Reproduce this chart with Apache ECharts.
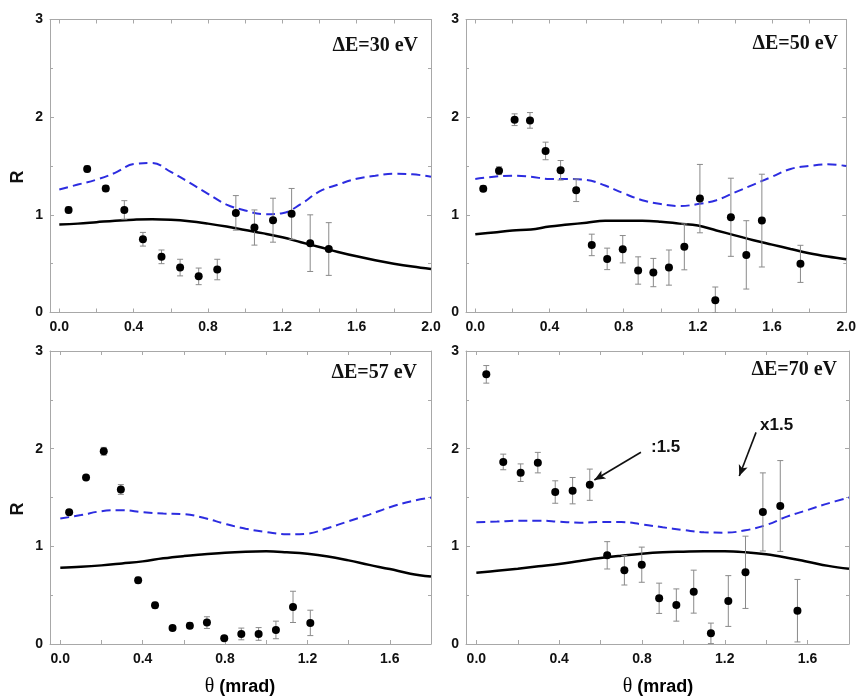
<!DOCTYPE html>
<html><head><meta charset="utf-8">
<script src="https://cdn.jsdelivr.net/npm/echarts@6/dist/echarts.min.js"></script>
<style>html,body{margin:0;padding:0;background:#fff}#c{width:859px;height:696px}</style>
</head><body><div id="c"></div>
<script>
// ---------------- data ----------------
const panelLabels = ['ΔE=30 eV', 'ΔE=50 eV', 'ΔE=57 eV', 'ΔE=70 eV'];
const xMaxTop = 2.0;
const xMaxBottom = 1.8;
const xLabelsTop = [0, 0.4, 0.8, 1.2, 1.6, 2.0];
const xLabelsBottom = [0, 0.4, 0.8, 1.2, 1.6];
const xTicksTop = [0, 0.2, 0.4, 0.6, 0.8, 1.0, 1.2, 1.4, 1.6, 1.8, 2.0];
const xTicksBottom = [0, 0.2, 0.4, 0.6, 0.8, 1.0, 1.2, 1.4, 1.6];
const yAxisTitle = 'R';
const xAxisTitle = ['θ', ' (mrad)'];

// ΔE = 30 eV
const theta30 = [0.05, 0.15, 0.25, 0.35, 0.45, 0.55, 0.65, 0.75, 0.85, 0.95, 1.05, 1.15, 1.25, 1.35, 1.45];
const r30 = [1.05, 1.47, 1.27, 1.05, 0.75, 0.57, 0.46, 0.37, 0.44, 1.02, 0.87, 0.945, 1.01, 0.71, 0.65];
const err30 = [0.03, 0.03, 0.03, 0.095, 0.07, 0.07, 0.085, 0.085, 0.105, 0.177, 0.18, 0.225, 0.26, 0.29, 0.27];

// ΔE = 50 eV
const theta50 = [0.043, 0.128, 0.212, 0.295, 0.379, 0.46, 0.544, 0.628, 0.711, 0.795, 0.878, 0.96, 1.044, 1.127, 1.211, 1.294, 1.378, 1.461, 1.545, 1.753];
const r50 = [1.268, 1.452, 1.974, 1.967, 1.654, 1.456, 1.251, 0.692, 0.549, 0.648, 0.43, 0.409, 0.46, 0.672, 1.166, 0.126, 0.975, 0.59, 0.941, 0.498];
const err50 = [0.03, 0.04, 0.06, 0.08, 0.09, 0.1, 0.115, 0.11, 0.11, 0.14, 0.14, 0.145, 0.18, 0.235, 0.35, 0.135, 0.4, 0.35, 0.475, 0.19];

// ΔE = 57 eV
const theta57 = [0.043, 0.125, 0.211, 0.294, 0.378, 0.46, 0.545, 0.629, 0.712, 0.796, 0.879, 0.963, 1.047, 1.13, 1.214];
const r57 = [1.349, 1.705, 1.973, 1.582, 0.654, 0.397, 0.164, 0.188, 0.219, 0.058, 0.103, 0.103, 0.144, 0.38, 0.216];
const err57 = [0.02, 0.02, 0.04, 0.05, 0.03, 0.03, 0.02, 0.03, 0.06, 0.02, 0.06, 0.065, 0.09, 0.16, 0.13];

// ΔE = 70 eV
const theta70 = [0.048, 0.13, 0.214, 0.297, 0.381, 0.465, 0.548, 0.632, 0.715, 0.799, 0.883, 0.966, 1.05, 1.133, 1.217, 1.30, 1.384, 1.468, 1.551];
const r70 = [2.761, 1.864, 1.754, 1.857, 1.556, 1.57, 1.631, 0.908, 0.754, 0.812, 0.468, 0.399, 0.536, 0.109, 0.44, 0.734, 1.352, 1.413, 0.341];
const err70 = [0.09, 0.08, 0.09, 0.105, 0.115, 0.135, 0.16, 0.14, 0.15, 0.18, 0.155, 0.165, 0.22, 0.105, 0.26, 0.37, 0.4, 0.465, 0.32];

// theory curves
const curveXTop = [0, 0.1, 0.2, 0.3, 0.4, 0.5, 0.6, 0.7, 0.8, 0.9, 1.0, 1.1, 1.2, 1.3, 1.4, 1.5, 1.6, 1.7, 1.8, 1.9, 2.0];
const curveXBottom = [0, 0.1, 0.2, 0.3, 0.4, 0.5, 0.6, 0.7, 0.8, 0.9, 1.0, 1.1, 1.2, 1.3, 1.4, 1.5, 1.6, 1.7, 1.8];
const solid30 = [0.90, 0.91, 0.925, 0.94, 0.95, 0.955, 0.95, 0.935, 0.91, 0.88, 0.845, 0.81, 0.77, 0.72, 0.67, 0.62, 0.575, 0.535, 0.50, 0.47, 0.445];
const dashed30 = [1.26, 1.31, 1.36, 1.43, 1.52, 1.53, 1.44, 1.33, 1.215, 1.105, 1.045, 1.007, 1.017, 1.11, 1.24, 1.31, 1.37, 1.40, 1.42, 1.415, 1.39];
const solid50 = [0.80, 0.82, 0.84, 0.85, 0.88, 0.90, 0.92, 0.94, 0.94, 0.94, 0.93, 0.91, 0.89, 0.84, 0.79, 0.74, 0.695, 0.65, 0.607, 0.573, 0.545];
const dashed50 = [1.367, 1.39, 1.40, 1.39, 1.367, 1.367, 1.357, 1.30, 1.22, 1.15, 1.11, 1.09, 1.11, 1.15, 1.23, 1.31, 1.39, 1.47, 1.50, 1.517, 1.50];
const solid57 = [0.78, 0.79, 0.805, 0.825, 0.846, 0.877, 0.90, 0.918, 0.935, 0.945, 0.949, 0.94, 0.925, 0.897, 0.856, 0.81, 0.767, 0.72, 0.69];
const dashed57 = [1.284, 1.32, 1.36, 1.37, 1.35, 1.336, 1.33, 1.29, 1.23, 1.18, 1.147, 1.123, 1.13, 1.188, 1.257, 1.325, 1.40, 1.46, 1.50];
const solid70 = [0.73, 0.75, 0.771, 0.795, 0.819, 0.85, 0.88, 0.904, 0.925, 0.939, 0.945, 0.949, 0.949, 0.939, 0.918, 0.884, 0.843, 0.80, 0.77];
const dashed70 = [1.246, 1.253, 1.263, 1.263, 1.253, 1.242, 1.249, 1.249, 1.225, 1.195, 1.167, 1.143, 1.14, 1.164, 1.218, 1.304, 1.372, 1.44, 1.50];

// annotations in panel ΔE=70 eV (arrow start -> tip, in data units)
const annotTexts = [':1.5', 'x1.5'];
const arrow1 = [[0.795, 1.963], [0.570, 1.679]];
const arrow2 = [[1.351, 2.167], [1.270, 1.720]];

// ---------------- build ----------------
const panels = [
  { theta: theta30, r: r30, err: err30, cx: curveXTop, solid: solid30, dashed: dashed30, xMax: xMaxTop, labels: xLabelsTop, ticks: xTicksTop },
  { theta: theta50, r: r50, err: err50, cx: curveXTop, solid: solid50, dashed: dashed50, xMax: xMaxTop, labels: xLabelsTop, ticks: xTicksTop },
  { theta: theta57, r: r57, err: err57, cx: curveXBottom, solid: solid57, dashed: dashed57, xMax: xMaxBottom, labels: xLabelsBottom, ticks: xTicksBottom },
  { theta: theta70, r: r70, err: err70, cx: curveXBottom, solid: solid70, dashed: dashed70, xMax: xMaxBottom, labels: xLabelsBottom, ticks: xTicksBottom }
];
const gridsPos = [
  { left: 50, top: 19.5, width: 381, height: 293 },
  { left: 466, top: 19.5, width: 383, height: 293 },
  { left: 50, top: 351, width: 381, height: 293 },
  { left: 466, top: 351, width: 383, height: 293 }
];
const frameColor = '#a8a8a8';
const tickFont = { color: '#111', fontFamily: 'Liberation Sans', fontWeight: 'bold', fontSize: 14 };

const grid = [], xAxis = [], yAxis = [], series = [];
panels.forEach((p, i) => {
  grid.push(Object.assign({ containLabel: false }, gridsPos[i]));
  xAxis.push({
    gridIndex: i, type: 'value', position: 'bottom', min: -0.05, max: p.xMax,
    axisLine: { show: true, onZero: false, lineStyle: { color: frameColor, width: 1 } },
    axisTick: { show: true, inside: true, length: 4, customValues: p.ticks, lineStyle: { color: frameColor } },
    axisLabel: Object.assign({ show: true, margin: 8, customValues: p.labels, formatter: v => v.toFixed(1) }, tickFont),
    splitLine: { show: false }
  });
  xAxis.push({
    gridIndex: i, type: 'value', position: 'top', min: -0.05, max: p.xMax,
    axisLine: { show: true, onZero: false, lineStyle: { color: frameColor, width: 1 } },
    axisTick: { show: true, inside: true, length: 4, customValues: p.ticks, lineStyle: { color: frameColor } },
    axisLabel: { show: false },
    splitLine: { show: false }
  });
  yAxis.push({
    gridIndex: i, type: 'value', position: 'left', min: 0, max: 3, interval: 1,
    axisLine: { show: true, onZero: false, lineStyle: { color: frameColor, width: 1 } },
    axisTick: { show: true, inside: true, length: 4, lineStyle: { color: frameColor } },
    minorTick: { show: true, splitNumber: 2, length: 3, lineStyle: { color: frameColor } },
    axisLabel: Object.assign({ show: true, margin: 7 }, tickFont),
    splitLine: { show: false }
  });
  yAxis.push({
    gridIndex: i, type: 'value', position: 'right', min: 0, max: 3, interval: 1,
    axisLine: { show: true, onZero: false, lineStyle: { color: frameColor, width: 1 } },
    axisTick: { show: true, inside: true, length: 4, lineStyle: { color: frameColor } },
    minorTick: { show: true, splitNumber: 2, length: 3, lineStyle: { color: frameColor } },
    axisLabel: { show: false },
    splitLine: { show: false }
  });
  const xi = 2 * i, yi = 2 * i;
  series.push({
    type: 'line', xAxisIndex: xi, yAxisIndex: yi, smooth: 0.4, symbol: 'none',
    data: p.cx.map((x, k) => [x, p.dashed[k]]),
    lineStyle: { color: '#2c2ce0', width: 2, type: [9, 5] }, z: 2
  });
  series.push({
    type: 'line', xAxisIndex: xi, yAxisIndex: yi, smooth: 0.4, symbol: 'none',
    data: p.cx.map((x, k) => [x, p.solid[k]]),
    lineStyle: { color: '#000', width: 2.5 }, z: 3
  });
  series.push({
    type: 'custom', xAxisIndex: xi, yAxisIndex: yi, clip: true, z: 4,
    data: p.theta.map((x, k) => [x, p.r[k], p.err[k]]),
    renderItem: function (params, api) {
      const x = api.value(0), y = api.value(1), e = api.value(2);
      const hi = api.coord([x, y + e]);
      const lo = api.coord([x, Math.max(0, y - e)]);
      const cw = 3;
      const st = { stroke: '#8a8a8a', lineWidth: 1 };
      return {
        type: 'group', children: [
          { type: 'line', shape: { x1: hi[0], y1: hi[1], x2: lo[0], y2: lo[1] }, style: st },
          { type: 'line', shape: { x1: hi[0] - cw, y1: hi[1], x2: hi[0] + cw, y2: hi[1] }, style: st },
          { type: 'line', shape: { x1: lo[0] - cw, y1: lo[1], x2: lo[0] + cw, y2: lo[1] }, style: st }
        ]
      };
    }
  });
  const sc = {
    type: 'scatter', xAxisIndex: xi, yAxisIndex: yi, symbol: 'circle', symbolSize: 8,
    itemStyle: { color: '#000', opacity: 1 }, z: 5,
    data: p.theta.map((x, k) => [x, p.r[k]])
  };
  if (i === 3) {
    sc.markLine = {
      silent: true, symbol: ['none', 'arrow'], symbolSize: [7, 11],
      lineStyle: { color: '#111', width: 1.6, type: 'solid' },
      label: { show: false },
      data: [
        [{ coord: arrow1[0] }, { coord: arrow1[1] }],
        [{ coord: arrow2[0] }, { coord: arrow2[1] }]
      ]
    };
  }
  series.push(sc);
});

const labelPos = [[418, 46], [838, 44], [417, 373], [837, 370]];
const graphic = [];
panelLabels.forEach((t, i) => {
  graphic.push({
    type: 'text', x: labelPos[i][0], y: labelPos[i][1],
    style: { text: t, fill: '#111', font: 'bold 20px "Liberation Serif"', textAlign: 'right', textVerticalAlign: 'middle' }
  });
});
[[18, 177], [18, 509]].forEach(pos => {
  graphic.push({
    type: 'text', x: pos[0], y: pos[1], rotation: Math.PI / 2,
    style: { text: yAxisTitle, fill: '#111', font: 'bold 18px "Liberation Sans"', textAlign: 'center', textVerticalAlign: 'middle' }
  });
});
[[240, 687], [658, 687]].forEach(pos => {
  graphic.push({
    type: 'text', x: pos[0], y: pos[1],
    style: {
      text: '{t|' + xAxisTitle[0] + '}{m|' + xAxisTitle[1] + '}', textAlign: 'center', textVerticalAlign: 'middle',
      rich: {
        t: { fontFamily: 'Liberation Serif', fontSize: 20, color: '#111' },
        m: { fontFamily: 'Liberation Sans', fontWeight: 'bold', fontSize: 18, color: '#111' }
      }
    }
  });
});
graphic.push({ type: 'text', x: 651, y: 447, style: { text: annotTexts[0], fill: '#111', font: 'bold 17px "Liberation Sans"', textAlign: 'left', textVerticalAlign: 'middle' } });
graphic.push({ type: 'text', x: 760, y: 425, style: { text: annotTexts[1], fill: '#111', font: 'bold 17px "Liberation Sans"', textAlign: 'left', textVerticalAlign: 'middle' } });

const chart = echarts.init(document.getElementById('c'), null, { renderer: 'canvas' });
chart.setOption({ animation: false, backgroundColor: '#fff', grid, xAxis, yAxis, series, graphic });
</script></body></html>
